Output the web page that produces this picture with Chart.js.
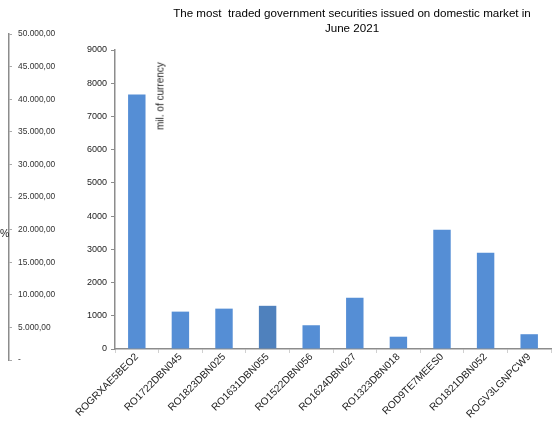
<!DOCTYPE html>
<html>
<head>
<meta charset="utf-8">
<script src="https://cdn.jsdelivr.net/npm/chart.js@4/dist/chart.umd.min.js"></script>
<style>
  body { margin: 0; background: #fff; font-family: "Liberation Sans", Arial, sans-serif; }
  #wrap { position: relative; width: 557px; height: 421px; }
  #wrap canvas { position: absolute; left: 0; top: 0; }
  #title { position: absolute; left: 152px; top: 5px; width: 400px; text-align: center; font-size: 11.6px; line-height: 15px; color: #000; }
  #unit { position: absolute; left: 160px; top: 96px; font-size: 10px; color: #222; white-space: nowrap; transform: translate(-50%, -50%) rotate(-90deg); }
  #pct { position: absolute; left: 0; top: 227px; font-size: 10.5px; color: #222; }
</style>
</head>
<body>
<div id="wrap">
  <canvas id="chart" width="557" height="421"></canvas>
  <canvas id="sideAxis" width="80" height="421"></canvas>
  <div id="title">The most&nbsp; traded government securities issued on domestic market in<br>June 2021</div>
  <div id="unit">mil. of currency</div>
  <div id="pct">%</div>
</div>
<script>
const securities = ["ROGRXAE5BEO2","RO1722DBN045","RO1823DBN025","RO1631DBN055","RO1522DBN056",
                    "RO1624DBN027","RO1323DBN018","ROD9TE7MEES0","RO1821DBN052","ROGV3LGNPCW9"];
const volumes = [7660, 1125, 1215, 1300, 715, 1540, 370, 3590, 2895, 445];
const barColors = ["#558ed5","#558ed5","#558ed5","#4f81bd","#558ed5",
                   "#558ed5","#558ed5","#558ed5","#558ed5","#558ed5"];
// left-hand percent axis, 0 shown as a dash
const pctTickLabels = ["-","5.000,00","10.000,00","15.000,00","20.000,00","25.000,00",
                       "30.000,00","35.000,00","40.000,00","45.000,00","50.000,00"];

new Chart(document.getElementById("chart"), {
  type: "bar",
  data: {
    labels: securities,
    datasets: [{ data: volumes, backgroundColor: barColors, categoryPercentage: 1, barPercentage: 0.4 }]
  },
  options: {
    responsive: false,
    animation: false,
    layout: { padding: { top: 50, right: 6, left: 0, bottom: 0 } },
    plugins: { legend: { display: false }, tooltip: { enabled: false } },
    scales: {
      x: {
        grid: { drawOnChartArea: false, color: "#d0d0d0", tickLength: 4 },
        border: { color: "#8c8c8c", width: 1.5 },
        ticks: { font: { family: "Liberation Sans", size: 10.2 }, color: "#222", minRotation: 45, maxRotation: 45, padding: -2 },
        afterFit: s => { s.height = 72; }
      },
      y: {
        min: 0, max: 9000,
        grid: { drawOnChartArea: false, color: "#8c8c8c", tickLength: 4 },
        border: { color: "#8c8c8c", width: 1.5 },
        ticks: { stepSize: 1000, font: { family: "Liberation Sans", size: 9 }, color: "#222", padding: 4,
                 callback: v => String(v) },
        afterFit: s => { s.width = 115; }
      }
    }
  }
});

new Chart(document.getElementById("sideAxis"), {
  type: "bar",
  data: { labels: [], datasets: [{ data: [] }] },
  options: {
    responsive: false,
    animation: false,
    layout: { padding: { top: 34, bottom: 61, left: 8, right: 0 } },
    plugins: { legend: { display: false }, tooltip: { enabled: false } },
    scales: {
      x: { display: false },
      y: {
        position: "right",
        min: 0, max: 50000,
        grid: { drawOnChartArea: false, color: "#aaa", tickLength: 3 },
        border: { color: "#8c8c8c", width: 1.5 },
        ticks: { stepSize: 5000, font: { family: "Liberation Sans", size: 8.4 }, color: "#333", padding: 6,
                 callback: (v, i) => pctTickLabels[i] },
        afterFit: s => { s.width = 71; }
      }
    }
  }
});
</script>
</body>
</html>
